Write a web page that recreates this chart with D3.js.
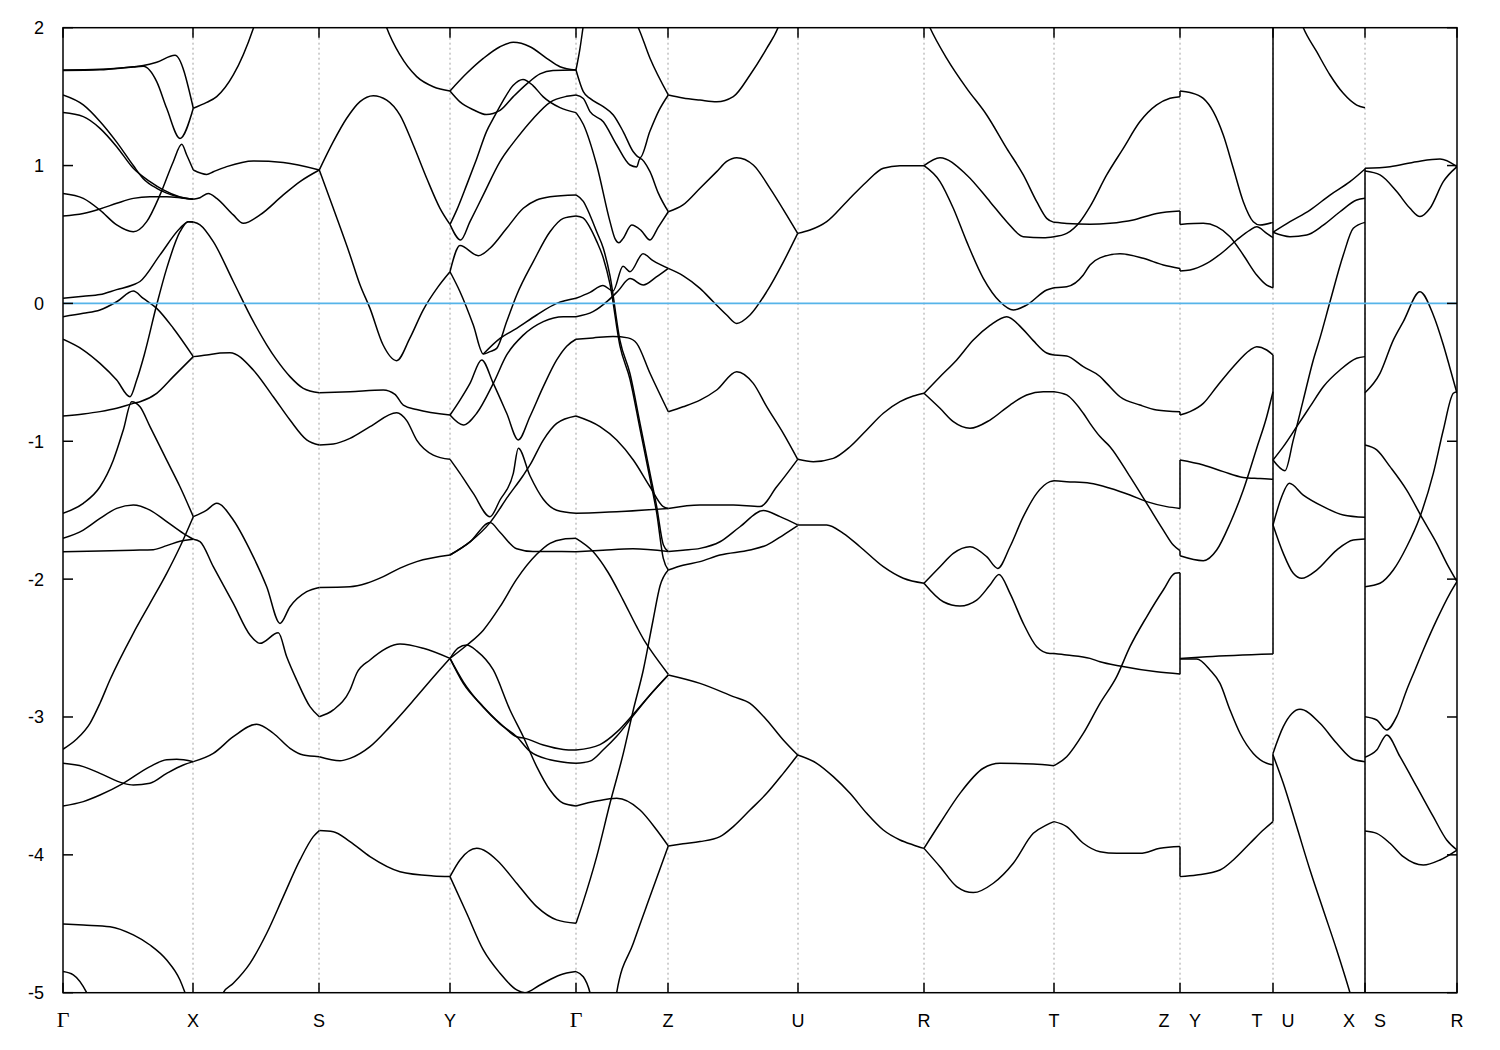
<!DOCTYPE html>
<html><head><meta charset="utf-8">
<script src="https://cdn.jsdelivr.net/npm/d3@7"></script>
<style>body{margin:0;background:#fff}</style>
</head><body>
<svg id="chart" width="1500" height="1050"></svg>
<script>
// ---- k-path (high-symmetry points) ----
const kTicks  = [0, 1.30, 2.56, 3.87, 5.13, 6.05, 7.35, 8.61, 9.91, 11.17, 12.10, 13.02, 13.94];
const kLabels = ["Γ","X","S","Y","Γ","Z","U","R","T","Z|Y","T|U","X|S","R"];
const yTicks  = [-5,-4,-3,-2,-1,0,1,2];

// ---- bands, per segment: each curve = [[k, E], ...] ----
const segGX = [
 [[0,1.693],[0.37,1.698],[0.703,1.717],[0.803,1.725],[0.937,1.749],[1.12,1.80],[1.303,1.416]],
 [[0,1.69],[0.37,1.695],[0.703,1.715],[0.803,1.72],[0.937,1.609],[1.037,1.415],[1.17,1.197],[1.303,1.416]],
 [[0,0.798],[0.203,0.762],[0.37,0.677],[0.537,0.569],[0.703,0.52],[0.837,0.593],[0.97,0.787],[1.103,1.028],[1.187,1.154],[1.237,1.077],[1.303,0.968]],
 [[0,1.512],[0.203,1.44],[0.37,1.32],[0.537,1.17],[0.703,1.0],[0.803,0.905],[0.937,0.835],[1.037,0.8],[1.17,0.77],[1.303,0.755]],
 [[0,1.384],[0.203,1.355],[0.37,1.27],[0.537,1.137],[0.703,0.98],[0.87,0.883],[1.003,0.823],[1.17,0.772],[1.303,0.755]],
 [[0,0.634],[0.203,0.653],[0.37,0.685],[0.537,0.726],[0.703,0.762],[0.87,0.774],[1.037,0.774],[1.17,0.767],[1.303,0.755]],
 [[0,0.037],[0.203,0.052],[0.37,0.064],[0.537,0.1],[0.703,0.135],[0.77,0.159],[0.97,0.352],[1.17,0.545],[1.253,0.593],[1.303,0.59]],
 [[0,-0.26],[0.203,-0.338],[0.37,-0.435],[0.537,-0.556],[0.67,-0.677],[0.737,-0.556],[0.813,-0.372],[0.937,-0.01],[1.037,0.254],[1.17,0.52],[1.253,0.593],[1.303,0.59]],
 [[0,-0.096],[0.203,-0.072],[0.37,-0.048],[0.537,0.012],[0.703,0.09],[0.803,0.036],[0.937,-0.036],[1.103,-0.18],[1.303,-0.386]],
 [[0,-0.817],[0.203,-0.802],[0.37,-0.785],[0.537,-0.761],[0.703,-0.725],[0.77,-0.713],[0.937,-0.652],[1.103,-0.531],[1.303,-0.386]],
 [[0,-1.523],[0.203,-1.45],[0.37,-1.33],[0.503,-1.137],[0.603,-0.918],[0.687,-0.713],[0.77,-0.75],[0.87,-0.894],[1.037,-1.137],[1.17,-1.33],[1.303,-1.547]],
 [[0,-1.704],[0.203,-1.644],[0.37,-1.56],[0.537,-1.487],[0.703,-1.462],[0.87,-1.499],[1.037,-1.583],[1.203,-1.668],[1.303,-1.711]],
 [[0,-1.801],[0.37,-1.796],[0.703,-1.79],[0.903,-1.786],[1.037,-1.757],[1.17,-1.725],[1.303,-1.711]],
 [[0,-3.234],[0.137,-3.16],[0.27,-3.046],[0.37,-2.9],[0.47,-2.73],[0.703,-2.393],[0.87,-2.176],[1.037,-1.958],[1.17,-1.765],[1.303,-1.547]],
 [[0,-3.336],[0.203,-3.36],[0.37,-3.409],[0.603,-3.481],[0.703,-3.493],[0.87,-3.481],[1.037,-3.409],[1.203,-3.348],[1.303,-3.324]],
 [[0,-3.645],[0.203,-3.614],[0.37,-3.566],[0.603,-3.481],[0.87,-3.36],[1.037,-3.31],[1.137,-3.307],[1.303,-3.324]],
 [[0,-4.501],[0.203,-4.509],[0.47,-4.521],[0.703,-4.581],[0.87,-4.654],[1.037,-4.763],[1.17,-4.908],[1.22,-5.0],[1.27,-5.1]],
 [[0,-4.847],[0.103,-4.871],[0.237,-5.0],[0.3,-5.1]]
];
const segXS = [
 [[1.303,1.416],[1.437,1.458],[1.537,1.50],[1.703,1.657],[1.903,1.995],[1.95,2.1]],
 [[1.303,0.968],[1.437,0.936],[1.503,0.955],[1.637,0.992],[1.903,1.033],[2.203,1.023],[2.563,0.968]],
 [[1.303,0.755],[1.37,0.767],[1.453,0.798],[1.537,0.762],[1.703,0.642],[1.803,0.581],[1.97,0.642],[2.203,0.787],[2.37,0.884],[2.563,0.968]],
 [[1.303,0.59],[1.37,0.57],[1.503,0.448],[1.703,0.159],[1.903,-0.131],[2.037,-0.3],[2.137,-0.41],[2.27,-0.531],[2.403,-0.616],[2.563,-0.648]],
 [[1.303,-0.386],[1.437,-0.374],[1.57,-0.36],[1.67,-0.357],[1.903,-0.483],[2.103,-0.677],[2.27,-0.846],[2.437,-0.99],[2.563,-1.027]],
 [[1.303,-1.547],[1.437,-1.499],[1.537,-1.45],[1.703,-1.571],[1.87,-1.789],[2.037,-2.055],[2.17,-2.321],[2.27,-2.2],[2.437,-2.091],[2.563,-2.06]],
 [[1.303,-1.711],[1.37,-1.728],[1.503,-1.91],[1.703,-2.176],[1.87,-2.405],[1.97,-2.466],[2.153,-2.389],[2.237,-2.563],[2.337,-2.732],[2.47,-2.925],[2.563,-2.998]],
 [[1.303,-3.324],[1.503,-3.264],[1.703,-3.143],[1.937,-3.053],[2.103,-3.118],[2.27,-3.227],[2.403,-3.276],[2.563,-3.288]],
 [[1.56,-5.1],[1.603,-5.0],[1.703,-4.932],[1.87,-4.787],[2.037,-4.569],[2.203,-4.303],[2.37,-4.037],[2.503,-3.868],[2.563,-3.824]]
];
const segSY = [
 [[2.563,0.968],[2.703,1.173],[2.837,1.343],[2.97,1.464],[3.103,1.507],[3.237,1.475],[3.37,1.366],[3.503,1.149],[3.637,0.908],[3.77,0.69],[3.87,0.573]],
 [[2.563,0.968],[2.703,0.69],[2.87,0.352],[2.97,0.135],[3.07,-0.036],[3.2,-0.3],[3.337,-0.415],[3.47,-0.25],[3.6,-0.05],[3.75,0.12],[3.87,0.23]],
 [[3.15,2.2],[3.237,2.0],[3.37,1.802],[3.537,1.645],[3.703,1.572],[3.87,1.541]],
 [[2.563,-0.648],[2.87,-0.64],[3.203,-0.628],[3.32,-0.66],[3.403,-0.737],[3.537,-0.77],[3.87,-0.81]],
 [[2.563,-1.027],[2.703,-1.02],[2.87,-0.979],[3.07,-0.894],[3.337,-0.793],[3.437,-0.85],[3.537,-0.991],[3.703,-1.1],[3.87,-1.131]],
 [[2.563,-2.06],[2.87,-2.055],[3.037,-2.03],[3.203,-1.982],[3.37,-1.92],[3.537,-1.873],[3.87,-1.825]],
 [[2.563,-2.998],[2.703,-2.949],[2.87,-2.804],[2.937,-2.683],[3.07,-2.587],[3.37,-2.471],[3.603,-2.502],[3.87,-2.575]],
 [[2.563,-3.288],[2.77,-3.317],[2.87,-3.3],[3.07,-3.215],[3.27,-3.07],[3.537,-2.852],[3.737,-2.683],[3.87,-2.575]],
 [[2.563,-3.824],[2.703,-3.832],[2.87,-3.904],[3.07,-4.013],[3.37,-4.122],[3.703,-4.153],[3.87,-4.158]]
];
const segYG = [
 [[3.87,1.541],[4.037,1.669],[4.203,1.777],[4.37,1.862],[4.503,1.894],[4.67,1.862],[4.837,1.778],[4.97,1.717],[5.13,1.693]],
 [[3.87,1.541],[3.97,1.462],[4.103,1.405],[4.233,1.37],[4.37,1.40],[4.503,1.5],[4.65,1.6],[4.77,1.665],[4.9,1.69],[5.13,1.693]],
 [[3.87,0.573],[3.937,0.677],[4.037,0.86],[4.137,1.05],[4.237,1.25],[4.303,1.342],[4.4,1.47],[4.5,1.58],[4.6,1.625],[4.7,1.58],[4.8,1.50],[4.97,1.42],[5.13,1.384]],
 [[3.87,0.573],[3.977,0.46],[4.07,0.593],[4.203,0.787],[4.37,1.028],[4.537,1.197],[4.703,1.342],[4.87,1.459],[5.037,1.502],[5.13,1.512]],
 [[3.87,0.23],[3.97,0.42],[4.153,0.346],[4.27,0.40],[4.437,0.545],[4.603,0.69],[4.737,0.75],[4.87,0.774],[5.13,0.787]],
 [[3.87,0.23],[3.97,0.085],[4.103,-0.157],[4.203,-0.367],[4.27,-0.35],[4.337,-0.326],[4.437,-0.132],[4.537,0.061],[4.703,0.303],[4.87,0.52],[5.003,0.617],[5.13,0.634]],
 [[4.203,-0.367],[4.37,-0.254],[4.537,-0.181],[4.737,-0.084],[4.937,0.0],[5.13,0.037]],
 [[3.87,-0.81],[4.003,-0.882],[4.137,-0.797],[4.303,-0.58],[4.437,-0.374],[4.603,-0.23],[4.803,-0.132],[5.003,-0.096],[5.13,-0.096]],
 [[3.87,-0.81],[3.97,-0.701],[4.07,-0.58],[4.187,-0.41],[4.303,-0.58],[4.437,-0.797],[4.553,-0.99],[4.67,-0.82],[4.803,-0.604],[4.937,-0.41],[5.037,-0.31],[5.13,-0.26]],
 [[3.87,-1.131],[3.97,-1.233],[4.103,-1.378],[4.27,-1.547],[4.37,-1.426],[4.503,-1.233],[4.553,-1.05],[4.67,-1.25],[4.803,-1.42],[4.937,-1.5],[5.13,-1.523]],
 [[3.87,-1.825],[4.07,-1.73],[4.27,-1.59],[4.45,-1.4],[4.6,-1.25],[4.67,-1.172],[4.803,-0.991],[4.937,-0.87],[5.13,-0.817]],
 [[3.87,-1.825],[4.07,-1.73],[4.27,-1.59],[4.37,-1.66],[4.537,-1.78],[4.7,-1.80],[4.9,-1.80],[5.13,-1.801]],
 [[3.87,-2.575],[4.037,-2.48],[4.203,-2.37],[4.37,-2.2],[4.537,-2.0],[4.737,-1.82],[4.87,-1.74],[5.0,-1.71],[5.13,-1.704]],
 [[3.87,-2.575],[4.003,-2.756],[4.203,-2.925],[4.37,-3.046],[4.537,-3.143],[4.62,-3.155],[4.803,-3.203],[5.003,-3.235],[5.13,-3.24]],
 [[3.87,-2.575],[4.003,-2.745],[4.203,-2.93],[4.37,-3.05],[4.537,-3.143],[4.67,-3.25],[4.87,-3.31],[5.13,-3.336]],
 [[3.87,-2.575],[3.95,-2.5],[4.037,-2.478],[4.137,-2.52],[4.303,-2.659],[4.47,-2.949],[4.603,-3.143],[4.737,-3.36],[4.87,-3.53],[5.003,-3.626],[5.13,-3.645]],
 [[3.87,-4.158],[3.97,-4.037],[4.137,-3.953],[4.337,-4.037],[4.537,-4.206],[4.737,-4.376],[4.937,-4.472],[5.13,-4.497]],
 [[3.87,-4.158],[4.037,-4.424],[4.203,-4.69],[4.37,-4.859],[4.537,-4.98],[4.62,-5.0],[4.77,-4.944],[4.97,-4.871],[5.13,-4.847]]
];
const segGZ = [
 [[5.13,1.693],[5.17,1.85],[5.2,2.0],[5.22,2.1]],
 [[5.68,2.1],[5.753,2.0],[5.87,1.778],[6.053,1.512]],
 [[5.13,1.693],[5.203,1.536],[5.27,1.487],[5.403,1.427],[5.503,1.367],[5.603,1.245],[5.703,1.1],[5.77,1.057],[5.87,1.25],[5.96,1.4],[6.053,1.512]],
 [[5.13,1.512],[5.203,1.487],[5.27,1.391],[5.403,1.318],[5.537,1.149],[5.67,1.004],[5.737,0.99],[5.77,1.052],[5.87,0.956],[5.953,0.8],[6.053,0.665]],
 [[5.13,1.384],[5.203,1.30],[5.337,1.004],[5.47,0.593],[5.52,0.47],[5.56,0.44],[5.60,0.47],[5.687,0.569],[5.78,0.53],[5.87,0.46],[5.95,0.55],[6.053,0.665]],
 [[5.13,0.787],[5.203,0.74],[5.27,0.64],[5.337,0.52],[5.403,0.40],[5.47,0.2],[5.57,-0.27],[5.67,-0.51],[5.77,-0.87],[5.87,-1.233],[5.937,-1.475],[6.003,-1.75],[6.053,-1.80]],
 [[5.13,0.634],[5.2,0.62],[5.27,0.55],[5.337,0.45],[5.403,0.33],[5.47,0.14],[5.57,-0.31],[5.67,-0.55],[5.77,-0.91],[5.87,-1.27],[5.937,-1.52],[6.003,-1.85],[6.053,-1.934]],
 [[5.13,0.037],[5.27,0.08],[5.4,0.13],[5.5,0.09],[5.6,0.27],[5.67,0.23],[5.8,0.36],[5.9,0.31],[6.053,0.254]],
 [[5.13,-0.096],[5.3,-0.06],[5.45,0.02],[5.55,0.09],[5.67,0.18],[5.803,0.134],[5.93,0.19],[6.053,0.254]],
 [[5.13,-0.26],[5.3,-0.25],[5.5,-0.24],[5.65,-0.25],[5.737,-0.29],[5.87,-0.507],[6.053,-0.786]],
 [[5.13,-0.817],[5.37,-0.894],[5.537,-0.991],[5.703,-1.136],[5.87,-1.33],[6.003,-1.474],[6.053,-1.487]],
 [[5.13,-1.523],[5.537,-1.511],[6.053,-1.487]],
 [[5.13,-1.704],[5.3,-1.8],[5.45,-1.95],[5.6,-2.15],[5.737,-2.345],[5.82,-2.454],[5.887,-2.526],[6.053,-2.69]],
 [[5.13,-1.801],[5.4,-1.79],[5.7,-1.78],[6.053,-1.80]],
 [[5.13,-4.497],[5.197,-4.352],[5.337,-4.013],[5.47,-3.626],[5.603,-3.264],[5.703,-2.949],[5.803,-2.659],[5.9,-2.3],[5.97,-2.05],[6.053,-1.934]],
 [[5.13,-3.24],[5.37,-3.2],[5.537,-3.11],[5.703,-2.98],[5.87,-2.84],[6.053,-2.695]],
 [[5.13,-3.336],[5.27,-3.32],[5.4,-3.24],[5.537,-3.14],[5.703,-2.99],[5.87,-2.84],[6.053,-2.695]],
 [[5.13,-3.645],[5.337,-3.61],[5.537,-3.59],[5.77,-3.675],[5.937,-3.82],[6.053,-3.936]],
 [[5.53,-5.1],[5.537,-5.0],[5.703,-4.642],[5.87,-4.303],[6.053,-3.936]],
 [[5.13,-4.847],[5.203,-4.884],[5.27,-5.0],[5.3,-5.1]]
];
const segZU = [
 [[6.053,1.512],[6.2,1.49],[6.37,1.475],[6.537,1.463],[6.703,1.5],[6.87,1.657],[7.037,1.85],[7.15,2.0],[7.2,2.1]],
 [[6.053,0.665],[6.2,0.714],[6.37,0.835],[6.537,0.956],[6.637,1.03],[6.737,1.057],[6.903,1.004],[7.07,0.835],[7.237,0.641],[7.347,0.508]],
 [[6.053,0.254],[6.203,0.2],[6.37,0.109],[6.503,0.012],[6.637,-0.084],[6.737,-0.145],[6.87,-0.084],[7.037,0.085],[7.203,0.3],[7.347,0.508]],
 [[6.053,-0.786],[6.2,-0.75],[6.37,-0.701],[6.537,-0.628],[6.737,-0.495],[6.903,-0.58],[7.037,-0.749],[7.203,-0.943],[7.347,-1.131]],
 [[6.053,-1.487],[6.37,-1.462],[6.703,-1.462],[6.97,-1.474],[7.137,-1.33],[7.347,-1.131]],
 [[6.053,-1.80],[6.2,-1.79],[6.37,-1.777],[6.57,-1.729],[6.77,-1.62],[7.003,-1.503],[7.17,-1.547],[7.347,-1.607]],
 [[6.053,-1.934],[6.2,-1.9],[6.37,-1.873],[6.57,-1.825],[6.87,-1.789],[7.037,-1.753],[7.203,-1.68],[7.347,-1.612]],
 [[6.053,-2.695],[6.37,-2.756],[6.703,-2.852],[6.87,-2.901],[7.037,-3.022],[7.203,-3.167],[7.347,-3.276]],
 [[6.053,-3.936],[6.2,-3.92],[6.37,-3.904],[6.57,-3.868],[6.703,-3.795],[6.87,-3.675],[7.037,-3.554],[7.203,-3.409],[7.347,-3.276]]
];
const segUR = [
 [[7.347,0.508],[7.47,0.532],[7.637,0.593],[7.837,0.738],[8.037,0.883],[8.203,0.98],[8.37,0.999],[8.61,0.999]],
 [[7.347,-1.131],[7.503,-1.148],[7.703,-1.124],[7.87,-1.04],[8.037,-0.918],[8.203,-0.797],[8.37,-0.713],[8.503,-0.672],[8.61,-0.652]],
 [[7.347,-1.607],[7.637,-1.607],[7.803,-1.668],[7.97,-1.765],[8.203,-1.91],[8.403,-1.994],[8.61,-2.03]],
 [[7.347,-3.276],[7.537,-3.336],[7.703,-3.433],[7.87,-3.554],[8.037,-3.699],[8.203,-3.82],[8.37,-3.892],[8.503,-3.928],[8.61,-3.953]]
];
const segRT = [
 [[8.61,2.1],[8.67,2.0],[8.837,1.778],[9.037,1.56],[9.237,1.367],[9.437,1.125],[9.603,0.932],[9.737,0.738],[9.837,0.617],[9.91,0.588]],
 [[8.61,0.999],[8.77,1.057],[9.037,0.932],[9.27,0.738],[9.437,0.593],[9.603,0.484],[9.803,0.477],[9.91,0.484]],
 [[8.61,0.999],[8.77,0.884],[8.903,0.69],[9.037,0.448],[9.203,0.182],[9.37,0.012],[9.503,-0.048],[9.637,-0.012],[9.837,0.097],[9.91,0.114]],
 [[8.61,-0.652],[8.77,-0.532],[8.937,-0.41],[9.103,-0.266],[9.27,-0.16],[9.437,-0.096],[9.603,-0.19],[9.703,-0.27],[9.837,-0.36],[9.91,-0.374]],
 [[8.61,-0.652],[8.77,-0.761],[8.903,-0.858],[9.07,-0.906],[9.27,-0.846],[9.47,-0.737],[9.637,-0.664],[9.803,-0.64],[9.91,-0.64]],
 [[8.61,-2.03],[8.77,-1.91],[8.903,-1.813],[9.07,-1.765],[9.237,-1.837],[9.347,-1.922],[9.47,-1.765],[9.603,-1.547],[9.737,-1.378],[9.87,-1.293],[9.91,-1.286]],
 [[8.61,-2.03],[8.803,-2.164],[8.97,-2.195],[9.137,-2.152],[9.27,-2.043],[9.36,-1.966],[9.47,-2.103],[9.603,-2.321],[9.737,-2.49],[9.87,-2.539],[9.91,-2.539]],
 [[8.61,-3.953],[8.77,-3.771],[8.97,-3.554],[9.203,-3.372],[9.37,-3.336],[9.703,-3.341],[9.91,-3.353]],
 [[8.61,-3.953],[8.77,-4.086],[8.937,-4.23],[9.103,-4.274],[9.303,-4.206],[9.503,-4.061],[9.703,-3.844],[9.837,-3.783],[9.91,-3.759]]
];
const segTZ = [
 [[9.91,0.588],[10.037,0.58],[10.27,0.574],[10.47,0.581],[10.703,0.605],[10.937,0.653],[11.17,0.67]],
 [[9.91,0.484],[10.037,0.508],[10.17,0.593],[10.27,0.702],[10.437,0.932],[10.603,1.125],[10.77,1.319],[10.937,1.44],[11.07,1.488],[11.17,1.5]],
 [[9.91,0.114],[10.037,0.121],[10.203,0.206],[10.27,0.279],[10.37,0.33],[10.57,0.36],[10.803,0.327],[11.003,0.279],[11.17,0.254]],
 [[9.91,-0.374],[10.037,-0.382],[10.203,-0.459],[10.37,-0.53],[10.437,-0.58],[10.57,-0.677],[10.77,-0.737],[10.937,-0.773],[11.17,-0.786]],
 [[9.91,-0.64],[10.037,-0.664],[10.203,-0.797],[10.27,-0.87],[10.37,-0.966],[10.47,-1.039],[10.67,-1.257],[10.837,-1.45],[11.003,-1.644],[11.103,-1.753],[11.17,-1.794]],
 [[9.91,-1.286],[10.037,-1.293],[10.27,-1.305],[10.47,-1.341],[10.67,-1.39],[10.837,-1.438],[11.037,-1.474],[11.17,-1.487]],
 [[9.91,-2.539],[10.037,-2.55],[10.27,-2.575],[10.37,-2.599],[10.57,-2.63],[10.937,-2.672],[11.17,-2.688]],
 [[9.91,-3.353],[10.037,-3.288],[10.203,-3.119],[10.37,-2.901],[10.537,-2.707],[10.67,-2.49],[10.837,-2.273],[11.003,-2.079],[11.12,-1.958],[11.17,-1.953]],
 [[9.91,-3.759],[10.037,-3.795],[10.203,-3.916],[10.37,-3.977],[10.537,-3.989],[10.77,-3.989],[10.97,-3.953],[11.17,-3.94]]
];
const segYT = [
 [[11.17,1.541],[11.27,1.53],[11.403,1.487],[11.503,1.391],[11.603,1.221],[11.703,0.98],[11.803,0.738],[11.903,0.593],[11.97,0.569],[12.1,0.588]],
 [[11.17,0.573],[11.403,0.581],[11.537,0.557],[11.67,0.484],[11.803,0.351],[11.937,0.206],[12.037,0.133],[12.1,0.114]],
 [[11.17,0.235],[11.27,0.242],[11.437,0.29],[11.603,0.375],[11.737,0.46],[11.87,0.532],[11.937,0.556],[12.037,0.508],[12.1,0.477]],
 [[11.17,-0.81],[11.27,-0.785],[11.403,-0.725],[11.537,-0.604],[11.703,-0.459],[11.87,-0.338],[11.937,-0.314],[12.037,-0.338],[12.1,-0.374]],
 [[11.17,-1.136],[11.403,-1.172],[11.603,-1.22],[11.803,-1.262],[11.97,-1.27],[12.1,-1.276]],
 [[11.17,-1.83],[11.403,-1.866],[11.537,-1.789],[11.67,-1.596],[11.803,-1.353],[11.937,-1.05],[12.037,-0.822],[12.1,-0.64]],
 [[11.17,-2.575],[11.437,-2.563],[12.1,-2.543]],
 [[11.17,-2.58],[11.337,-2.58],[11.47,-2.659],[11.57,-2.756],[11.67,-2.949],[11.77,-3.118],[11.903,-3.264],[12.037,-3.336],[12.1,-3.348]],
 [[11.17,-4.158],[11.337,-4.146],[11.57,-4.11],[11.703,-4.037],[11.87,-3.916],[12.003,-3.82],[12.1,-3.759]]
];
const segUX = [
 [[12.35,2.1],[12.403,2.0],[12.537,1.826],[12.67,1.657],[12.803,1.524],[12.937,1.439],[13.02,1.42]],
 [[12.1,0.516],[12.27,0.593],[12.47,0.677],[12.67,0.786],[12.87,0.883],[13.02,0.975]],
 [[12.1,0.516],[12.27,0.484],[12.437,0.496],[12.603,0.568],[12.77,0.665],[12.937,0.75],[13.02,0.762]],
 [[12.1,-1.136],[12.22,-1.213],[12.303,-0.99],[12.403,-0.70],[12.503,-0.41],[12.57,-0.25],[12.67,0.012],[12.803,0.351],[12.903,0.545],[13.02,0.588]],
 [[12.1,-1.136],[12.203,-1.039],[12.337,-0.894],[12.47,-0.749],[12.603,-0.604],[12.77,-0.483],[12.937,-0.398],[13.02,-0.386]],
 [[12.1,-1.607],[12.187,-1.402],[12.263,-1.305],[12.403,-1.39],[12.603,-1.474],[12.803,-1.535],[13.02,-1.552]],
 [[12.1,-1.607],[12.203,-1.813],[12.303,-1.958],[12.387,-1.994],[12.537,-1.934],[12.737,-1.789],[12.903,-1.716],[13.02,-1.709]],
 [[12.1,-3.264],[12.203,-3.07],[12.37,-2.944],[12.57,-3.046],[12.737,-3.191],[12.903,-3.307],[13.02,-3.324]],
 [[12.1,-3.276],[12.203,-3.481],[12.337,-3.795],[12.47,-4.11],[12.603,-4.4],[12.737,-4.69],[12.87,-5.0],[12.95,-5.2]]
];
const segSR = [
 [[13.02,0.98],[13.27,0.992],[13.537,1.028],[13.77,1.047],[13.94,0.992]],
 [[13.02,0.96],[13.17,0.932],[13.337,0.811],[13.47,0.69],[13.57,0.63],[13.67,0.69],[13.803,0.883],[13.94,0.992]],
 [[13.02,-0.648],[13.17,-0.507],[13.303,-0.266],[13.403,-0.132],[13.57,0.085],[13.703,-0.084],[13.803,-0.30],[13.87,-0.47],[13.94,-0.652]],
 [[13.02,-1.027],[13.137,-1.063],[13.27,-1.184],[13.437,-1.354],[13.603,-1.571],[13.737,-1.74],[13.837,-1.885],[13.94,-2.018]],
 [[13.02,-2.055],[13.17,-2.03],[13.303,-1.934],[13.437,-1.765],[13.57,-1.547],[13.703,-1.233],[13.803,-0.918],[13.903,-0.652],[13.94,-0.64]],
 [[13.02,-2.998],[13.137,-3.022],[13.237,-3.094],[13.337,-2.998],[13.437,-2.804],[13.52,-2.659],[13.603,-2.514],[13.737,-2.296],[13.87,-2.103],[13.94,-2.018]],
 [[13.02,-3.292],[13.137,-3.24],[13.237,-3.13],[13.37,-3.288],[13.537,-3.505],[13.703,-3.723],[13.837,-3.892],[13.94,-3.965]],
 [[13.02,-3.827],[13.137,-3.844],[13.27,-3.916],[13.403,-4.013],[13.603,-4.074],[13.77,-4.037],[13.94,-3.965]]
];
// vertical jumps where the path is discontinuous: [k, E_from, E_to]
const breakJumps = [
 [11.17,1.50,1.541],[11.17,0.67,0.573],[11.17,0.254,0.235],[11.17,-0.786,-0.81],
 [11.17,-1.136,-1.487],[11.17,-1.794,-1.83],[11.17,-1.953,-2.69],[11.17,-3.94,-4.158],
 [12.10,2.1,0.114],[12.10,-0.374,-2.543],[12.10,-3.264,-3.759],
 [13.02,0.98,-5.1]
];

// ---- drawing ----
const svg = d3.select("#chart");
const W = 1500, H = 1050;
const pL = 63, pR = 1457, pT = 27.7, pB = 992.7;
const x = d3.scaleLinear().domain([kTicks[0], kTicks[kTicks.length-1]]).range([pL, pR]);
const y = d3.scaleLinear().domain([-5, 2]).range([pB, pT]);

svg.append("rect").attr("width", W).attr("height", H).attr("fill", "#fff");
svg.append("defs").append("clipPath").attr("id", "clip")
  .append("rect").attr("x", pL).attr("y", pT).attr("width", pR-pL).attr("height", pB-pT);

svg.append("g").selectAll("line").data(kTicks.slice(1, -1)).join("line")
  .attr("x1", d => x(d)).attr("x2", d => x(d)).attr("y1", pT).attr("y2", pB)
  .attr("stroke", "#a0a0a0").attr("stroke-width", 1).attr("stroke-dasharray", "2,3");

const plot = svg.append("g").attr("clip-path", "url(#clip)");
const bandLine = d3.line().x(d => x(d[0])).y(d => y(d[1])).curve(d3.curveMonotoneX);
const segments = [segGX, segXS, segSY, segYG, segGZ, segZU, segUR, segRT, segTZ, segYT, segUX, segSR];
segments.forEach(seg => {
  plot.append("g").selectAll("path").data(seg).join("path")
    .attr("d", bandLine).attr("fill", "none").attr("stroke", "#000")
    .attr("stroke-width", 1.5).attr("stroke-linejoin", "round");
});
plot.append("g").selectAll("line").data(breakJumps).join("line")
  .attr("x1", d => x(d[0])).attr("x2", d => x(d[0]))
  .attr("y1", d => y(d[1])).attr("y2", d => y(d[2]))
  .attr("stroke", "#000").attr("stroke-width", 1.5);

plot.append("line").attr("x1", pL).attr("x2", pR).attr("y1", y(0)).attr("y2", y(0))
  .attr("stroke", "#56b4e9").attr("stroke-width", 1.8);

svg.append("rect").attr("x", pL).attr("y", pT).attr("width", pR-pL).attr("height", pB-pT)
  .attr("fill", "none").attr("stroke", "#000").attr("stroke-width", 1.5);

const tk = svg.append("g").attr("stroke", "#000").attr("stroke-width", 1.5);
kTicks.forEach(k => {
  tk.append("line").attr("x1", x(k)).attr("x2", x(k)).attr("y1", pB).attr("y2", pB-10);
  tk.append("line").attr("x1", x(k)).attr("x2", x(k)).attr("y1", pT).attr("y2", pT+10);
});
yTicks.forEach(v => {
  tk.append("line").attr("x1", pL).attr("x2", pL+10).attr("y1", y(v)).attr("y2", y(v));
  tk.append("line").attr("x1", pR).attr("x2", pR-10).attr("y1", y(v)).attr("y2", y(v));
});

svg.append("g").selectAll("text").data(yTicks).join("text")
  .attr("x", 44).attr("y", d => y(d) + 6.5).attr("text-anchor", "end")
  .attr("font-family", "Liberation Sans, Arial, sans-serif").attr("font-size", 18)
  .text(d => d);

const xl = svg.append("g");
function addLabel(txt, px) {
  const isG = txt === "Γ";
  xl.append("text").attr("x", px).attr("y", 1027).attr("text-anchor", "middle")
    .attr("font-family", isG ? "Liberation Serif, Times New Roman, serif" : "Liberation Sans, Arial, sans-serif")
    .attr("font-size", isG ? 22 : 18).text(txt);
}
kLabels.forEach((lab, i) => {
  const px = x(kTicks[i]);
  if (lab.includes("|")) {
    const [a, b] = lab.split("|");
    addLabel(a, px - 16);
    addLabel(b, px + 15);
  } else addLabel(lab, px);
});
</script>
</body></html>
